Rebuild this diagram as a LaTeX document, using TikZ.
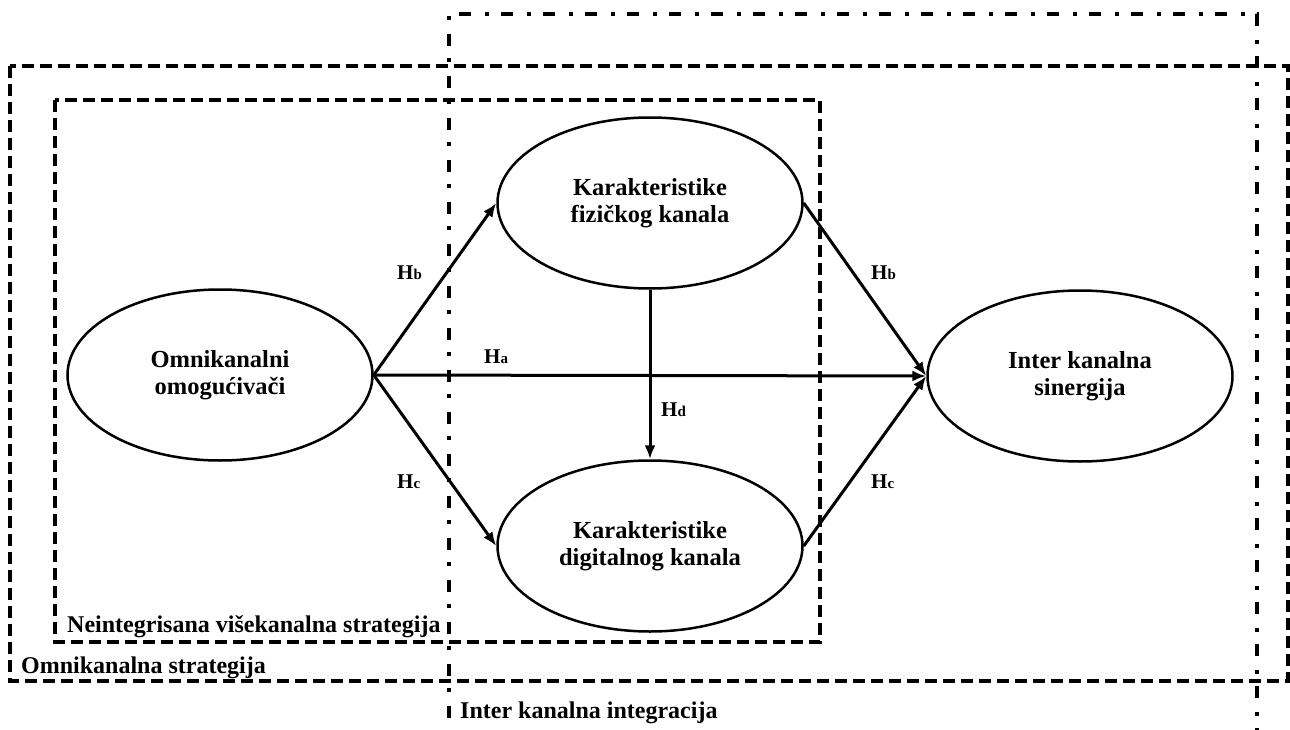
\documentclass[tikz,border=0pt]{standalone}
\usepackage{fontspec}
\setmainfont{Liberation Serif}
\usetikzlibrary{shapes.geometric,arrows.meta}
\begin{document}
\begin{tikzpicture}[x=1pt,y=-1pt,
  construct/.style={ellipse,draw,line width=2.5pt,minimum width=305pt,minimum height=171pt,
    inner sep=0pt,align=center,font=\fontsize{24.5}{27}\selectfont\bfseries},
  link/.style={line width=3pt,-{Latex[length=14pt,width=11pt]}},
  hyp/.style={anchor=base west,inner sep=0pt,font=\fontsize{21}{21}\selectfont\bfseries},
  boxlabel/.style={anchor=base west,inner sep=0pt,font=\fontsize{24}{27}\selectfont\bfseries},
  dashbox/.style={line width=3.3pt,dash pattern=on 12pt off 6pt},
  dotbox/.style={line width=3.3pt,dash pattern=on 12pt off 14pt on 4pt off 12pt}
]
\useasboundingbox (0,0) rectangle (1290,730);
\clip (0,0) rectangle (1290,730);

% strategy frames
\draw[dashbox] (10,66) rectangle (1288,681);
\draw[dashbox] (55,100) rectangle (820,642);
\draw[dotbox] (449,760) -- (449,14) -- (1257,14) -- (1257,760);

\node[boxlabel] (lneint) at (67,632) {Neintegrisana višekanalna strategija};
\node[boxlabel] (lomni) at (21,673) {Omnikanalna strategija};
\node[boxlabel] (linter) at (460,718) {Inter kanalna integracija};

% constructs
\node[construct] (omni) at (220,375) {Omnikanalni\\omogućivači};
\node[construct] (fiz) at (650,203) {Karakteristike\\fizičkog kanala};
\node[construct] (dig) at (650,546) {Karakteristike\\digitalnog kanala};
\node[construct] (sin) at (1080,376) {Inter kanalna\\sinergija};

% hypothesised paths
\draw[link] (omni.east) -- (fiz.west);
\draw[link] (omni.east) -- (dig.west);
\draw[link] (omni.east) -- (sin.west);
\draw[link] (fiz.south) -- (dig.north);
\draw[link] (fiz.east) -- (sin.west);
\draw[link] (dig.east) -- (sin.west);

% path labels
\node[hyp] (hb1) at (397,279) {H{\fontsize{15}{15}\selectfont b}};
\node[hyp] (ha) at (484,363) {H{\fontsize{15}{15}\selectfont a}};
\node[hyp] (hc1) at (397,488) {H{\fontsize{15}{15}\selectfont c}};
\node[hyp] (hd) at (661,416) {H{\fontsize{15}{15}\selectfont d}};
\node[hyp] (hb2) at (871,279) {H{\fontsize{15}{15}\selectfont b}};
\node[hyp] (hc2) at (871,488) {H{\fontsize{15}{15}\selectfont c}};
\end{tikzpicture}
\end{document}
